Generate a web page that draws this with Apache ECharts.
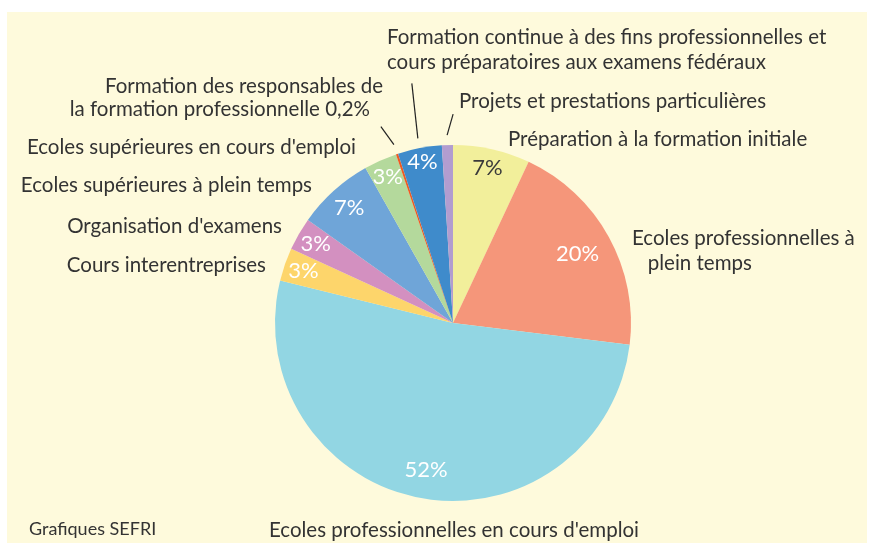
<!DOCTYPE html>
<html>
<head>
<meta charset="utf-8">
<script src="https://cdn.jsdelivr.net/npm/echarts@6/dist/echarts.min.js"></script>
<style>html,body{margin:0;padding:0;background:#fff}#c{width:870px;height:543px}</style>
</head>
<body>
<div id="c"></div>
<script>
// ---- data ----
const categories = [
  'Préparation à la formation initiale',
  'Ecoles professionnelles à plein temps',
  "Ecoles professionnelles en cours d'emploi",
  'Cours interentreprises',
  "Organisation d'examens",
  'Ecoles supérieures à plein temps',
  "Ecoles supérieures en cours d'emploi",
  'Formation des responsables de la formation professionnelle',
  'Formation continue à des fins professionnelles et cours préparatoires aux examens fédéraux',
  'Projets et prestations particulières'
];
const values = [7, 20, 52, 3, 3, 7, 3, 0.2, 4, 1];
const pctLabels = ['7%', '20%', '52%', '3%', '3%', '7%', '3%', '', '4%', ''];
const nameLabels = [
  'Préparation à la formation initiale',
  'Ecoles professionnelles à\n   plein temps',
  "Ecoles professionnelles en cours d'emploi",
  'Cours interentreprises',
  "Organisation d'examens",
  'Ecoles supérieures à plein temps',
  "Ecoles supérieures en cours d'emploi",
  '{a|Formation des responsables de}\n{b|la formation professionnelle 0,2%}',
  'Formation continue à des fins professionnelles et\ncours préparatoires aux examens fédéraux',
  'Projets et prestations particulières'
];
const colors = ['#f2ef9b', '#f5967a', '#92d6e3', '#fdd56b', '#d390c0', '#6fa5d8', '#b4d99c', '#ee5a24', '#3f8bcb', '#b29dd0'];

// ---- layout / style ----
const C = [453, 323];
const R = 178;
const FONT = 'Lato';
const TXT = '#333333';
const NAME_FS = 20.5;
const insideR = [0.89, 0.80, 0.84, 0.89, 0.89, 0.87, 0.90, 0.9, 0.92, 0.9];
const namePos = [
  [508, 139, 'left'],
  [632, 251, 'left'],
  [454, 530, 'center'],
  [266, 265, 'right'],
  [282, 226, 'right'],
  [312, 185, 'right'],
  [356, 147, 'right'],
  [383, 98, 'right'],
  [387, 50, 'left'],
  [459, 101, 'left']
];
// leader lines: [dataIndex, dx, dy] from the slice's mid angle just outside the pie
const leaders = [[7, -13, -18], [8, -6, -55], [9, 6, -21]];

const total = values.reduce((a, b) => a + b, 0);
function midPoint(i, r) {
  let cum = 0;
  for (let k = 0; k < i; k++) cum += values[k];
  const a = (cum + values[i] / 2) / total * 2 * Math.PI;
  return [C[0] + r * Math.sin(a), C[1] - r * Math.cos(a)];
}

const chart = echarts.init(document.getElementById('c'), null, {renderer: 'canvas'});

const graphics = [
  {type: 'rect', shape: {x: 7, y: 12, width: 860, height: 531}, style: {fill: '#fefadc'}, z: -10, silent: true},
  {type: 'text', left: 29, top: 520, style: {text: 'Grafiques SEFRI', font: '18px ' + FONT, fill: TXT}, silent: true}
];
leaders.forEach(([i, dx, dy]) => {
  const p = midPoint(i, R + 10);
  graphics.push({type: 'line', shape: {x1: p[0], y1: p[1], x2: p[0] + dx, y2: p[1] + dy},
    style: {stroke: '#222', lineWidth: 1.2}, z: 10, silent: true});
});

const option = {
  backgroundColor: '#ffffff',
  animation: false,
  graphic: graphics,
  series: [
    {
      type: 'pie',
      center: C,
      radius: [0, R],
      startAngle: 90,
      clockwise: true,
      silent: true,
      avoidLabelOverlap: false,
      itemStyle: {borderWidth: 0},
      data: values.map((v, i) => ({
        value: v, name: categories[i],
        itemStyle: {color: colors[i]},
        label: {color: i === 0 ? '#3a3a3a' : '#ffffff'}
      })),
      label: {
        show: true, position: 'inside', fontFamily: FONT, fontSize: 22,
        formatter: p => pctLabels[p.dataIndex]
      },
      labelLine: {show: false},
      labelLayout: function (p) {
        const r = p.labelRect;
        const cx = r.x + r.width / 2, cy = r.y + r.height / 2;
        const a = Math.atan2(cy - C[1], cx - C[0]);
        const rr = R * insideR[p.dataIndex];
        return {x: C[0] + rr * Math.cos(a), y: C[1] + rr * Math.sin(a), align: 'center', verticalAlign: 'middle'};
      }
    },
    {
      type: 'pie',
      center: C,
      radius: [0, R],
      startAngle: 90,
      clockwise: true,
      silent: true,
      avoidLabelOverlap: false,
      itemStyle: {color: 'rgba(0,0,0,0)', borderWidth: 0},
      data: values.map((v, i) => ({value: v, name: categories[i]})),
      label: {
        show: true, position: 'inside', fontFamily: FONT, fontSize: NAME_FS, color: TXT, lineHeight: 25,
        overflow: 'none',
        formatter: p => nameLabels[p.dataIndex],
        rich: {
          a: {fontFamily: FONT, fontSize: NAME_FS, color: TXT, lineHeight: 23},
          b: {fontFamily: FONT, fontSize: NAME_FS, color: TXT, lineHeight: 23, padding: [0, 13, 0, 0]}
        }
      },
      labelLine: {show: false},
      labelLayout: function (p) {
        const q = namePos[p.dataIndex];
        return {x: q[0], y: q[1], align: q[2], verticalAlign: 'middle'};
      }
    }
  ]
};
chart.setOption(option);
</script>
</body>
</html>
